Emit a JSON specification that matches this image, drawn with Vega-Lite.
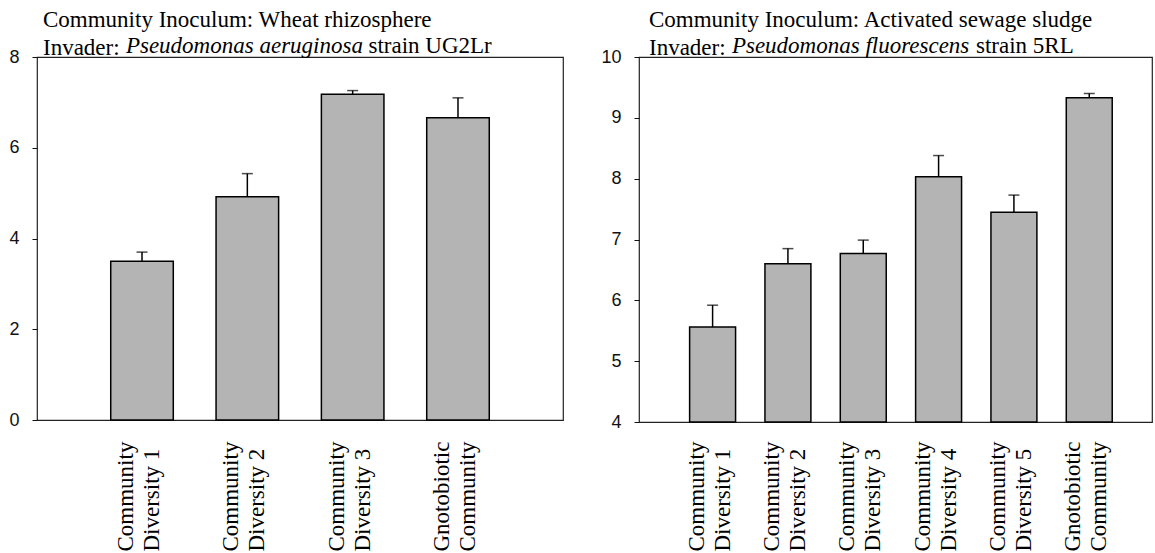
{
  "$schema": "https://vega.github.io/schema/vega-lite/v6.json",
  "padding": {"left": 8, "top": 8, "right": 0, "bottom": 0},
  "background": "white",
  "spacing": 76,
  "bounds": "flush",
  "config": {
    "view": {"stroke": "#222", "strokeWidth": 1.2},
    "axis": {"grid": false, "labelColor": "#111", "tickColor": "#111", "domain": false}
  },
  "hconcat": [
    {
      "width": 526,
      "height": 363,
      "data": {"values": [
        {"c": "Community|Diversity 1", "v": 3.50, "e": 3.70},
        {"c": "Community|Diversity 2", "v": 4.92, "e": 5.43},
        {"c": "Community|Diversity 3", "v": 7.18, "e": 7.26},
        {"c": "Gnotobiotic|Community", "v": 6.66, "e": 7.10}
      ]},
      "title": {
        "text": "Community Inoculum: Wheat rhizosphere",
        "subtitle": "Invader:",
        "anchor": "start", "frame": "group", "dx": 6,
        "font": "Liberation Serif", "fontSize": 23, "fontWeight": "normal", "color": "black",
        "subtitleFont": "Liberation Serif", "subtitleFontSize": 23, "subtitleColor": "black",
        "subtitlePadding": 5, "offset": -26
      },
      "resolve": {"axis": {"x": "independent"}},
      "layer": [
        {
          "mark": {"type": "bar", "fill": "#b4b4b4", "stroke": "black", "strokeWidth": 1.5},
          "encoding": {
            "x": {"field": "c", "type": "nominal", "sort": null,
              "scale": {"paddingInner": 0.406, "paddingOuter": 0.7, "align": 0.5},
              "axis": {"orient": "bottom", "title": null, "ticks": false, "labelAngle": 270, "labelAlign": "left", "labelBaseline": "middle",
                "labelPadding": 131, "labelOffset": -16, "labelFont": "Liberation Serif", "labelFontSize": 23, "labelLineHeight": 26, "labelColor": "black",
                "labelExpr": "split(datum.value, '|')"}},
            "y": {"field": "v", "type": "quantitative", "scale": {"domain": [0, 8]},
              "axis": {"title": null, "values": [0, 2, 4, 6, 8], "format": "d", "tickSize": 5, "labelPadding": 13, "labelFont": "Liberation Sans", "labelFontSize": 18}},
            "y2": {"datum": 0}
          }
        },
        {
          "mark": {"type": "rule", "stroke": "black", "strokeWidth": 1.5},
          "encoding": {
            "x": {"field": "c", "type": "nominal", "sort": null,
              "axis": {"orient": "top", "title": "Pseudomonas aeruginosa", "titleFont": "Liberation Serif", "titleFontSize": 23,
                "titleFontStyle": "italic", "titleFontWeight": "normal", "titleColor": "black", "titleX": 88.4, "titleY": -5,
                "titleAlign": "left", "titleBaseline": "alphabetic", "titleAngle": 0, "labels": false, "ticks": false, "domain": false}},
            "y": {"field": "v", "type": "quantitative"},
            "y2": {"field": "e"}
          }
        },
        {
          "mark": {"type": "tick", "color": "black", "thickness": 1.5, "size": 11},
          "encoding": {
            "x": {"field": "c", "type": "nominal", "sort": null,
              "axis": {"orient": "top", "title": "strain UG2Lr", "titleFont": "Liberation Serif", "titleFontSize": 23,
                "titleFontStyle": "normal", "titleFontWeight": "normal", "titleColor": "black", "titleX": 331, "titleY": -5,
                "titleAlign": "left", "titleBaseline": "alphabetic", "titleAngle": 0, "labels": false, "ticks": false, "domain": false}},
            "y": {"field": "e", "type": "quantitative"}
          }
        }
      ]
    },
    {
      "width": 513,
      "height": 365,
      "data": {"values": [
        {"c": "Community|Diversity 1", "v": 5.56, "e": 5.92},
        {"c": "Community|Diversity 2", "v": 6.60, "e": 6.85},
        {"c": "Community|Diversity 3", "v": 6.77, "e": 6.99},
        {"c": "Community|Diversity 4", "v": 8.03, "e": 8.38},
        {"c": "Community|Diversity 5", "v": 7.45, "e": 7.73},
        {"c": "Gnotobiotic|Community", "v": 9.33, "e": 9.40}
      ]},
      "title": {
        "text": "Community Inoculum: Activated sewage sludge",
        "subtitle": "Invader:",
        "anchor": "start", "frame": "group", "dx": 10,
        "font": "Liberation Serif", "fontSize": 23, "fontWeight": "normal", "color": "black",
        "subtitleFont": "Liberation Serif", "subtitleFontSize": 23, "subtitleColor": "black",
        "subtitlePadding": 5, "offset": -26
      },
      "resolve": {"axis": {"x": "independent"}},
      "layer": [
        {
          "mark": {"type": "bar", "fill": "#b4b4b4", "stroke": "black", "strokeWidth": 1.5},
          "encoding": {
            "x": {"field": "c", "type": "nominal", "sort": null,
              "scale": {"paddingInner": 0.39, "paddingOuter": 0.6, "align": 0.56},
              "axis": {"orient": "bottom", "title": null, "ticks": false, "labelAngle": 270, "labelAlign": "left", "labelBaseline": "middle",
                "labelPadding": 129, "labelOffset": -16, "labelFont": "Liberation Serif", "labelFontSize": 23, "labelLineHeight": 26, "labelColor": "black",
                "labelExpr": "split(datum.value, '|')"}},
            "y": {"field": "v", "type": "quantitative", "scale": {"domain": [4, 10], "zero": false},
              "axis": {"title": null, "values": [4, 5, 6, 7, 8, 9, 10], "format": "d", "tickSize": 5, "labelPadding": 13, "labelFont": "Liberation Sans", "labelFontSize": 18}},
            "y2": {"datum": 4}
          }
        },
        {
          "mark": {"type": "rule", "stroke": "black", "strokeWidth": 1.5},
          "encoding": {
            "x": {"field": "c", "type": "nominal", "sort": null,
              "axis": {"orient": "top", "title": "Pseudomonas fluorescens", "titleFont": "Liberation Serif", "titleFontSize": 23,
                "titleFontStyle": "italic", "titleFontWeight": "normal", "titleColor": "black", "titleX": 92.4, "titleY": -5,
                "titleAlign": "left", "titleBaseline": "alphabetic", "titleAngle": 0, "labels": false, "ticks": false, "domain": false}},
            "y": {"field": "v", "type": "quantitative"},
            "y2": {"field": "e"}
          }
        },
        {
          "mark": {"type": "tick", "color": "black", "thickness": 1.5, "size": 11},
          "encoding": {
            "x": {"field": "c", "type": "nominal", "sort": null,
              "axis": {"orient": "top", "title": "strain 5RL", "titleFont": "Liberation Serif", "titleFontSize": 23,
                "titleFontStyle": "normal", "titleFontWeight": "normal", "titleColor": "black", "titleX": 336.5, "titleY": -5,
                "titleAlign": "left", "titleBaseline": "alphabetic", "titleAngle": 0, "labels": false, "ticks": false, "domain": false}},
            "y": {"field": "e", "type": "quantitative"}
          }
        }
      ]
    }
  ]
}
